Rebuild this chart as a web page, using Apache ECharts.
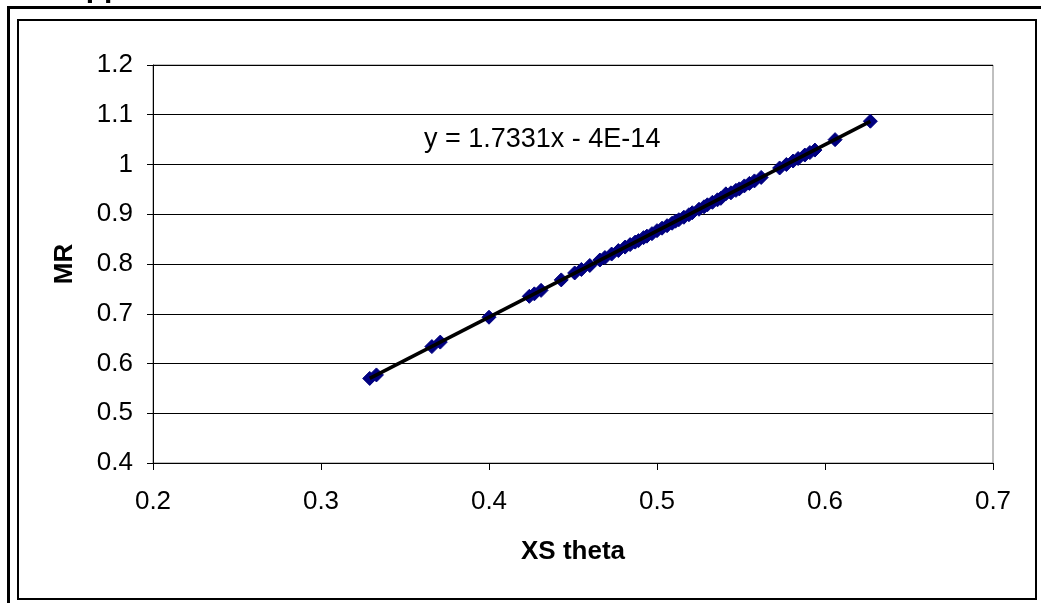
<!DOCTYPE html>
<html>
<head>
<meta charset="utf-8">
<script src="https://cdn.jsdelivr.net/npm/echarts@6/dist/echarts.min.js"></script>
<style>html,body{margin:0;padding:0;background:#fff}#c{width:1041px;height:603px}</style>
</head>
<body>
<div id="c"></div>
<script>
// XS theta values
const xsTheta = [0.329,0.333,0.366,0.371,0.400,0.424,0.427,0.431,0.443,0.451,0.455,0.460,0.466,0.469,0.473,0.477,0.481,0.484,0.487,0.489,0.492,0.494,0.497,0.500,0.503,0.506,0.509,0.511,0.513,0.516,0.519,0.521,0.525,0.528,0.530,0.533,0.536,0.538,0.541,0.544,0.547,0.549,0.552,0.555,0.558,0.562,0.573,0.577,0.581,0.584,0.588,0.591,0.594,0.606,0.627];
// MR values
const mr = [0.570,0.577,0.634,0.643,0.693,0.735,0.740,0.747,0.768,0.782,0.789,0.797,0.808,0.813,0.820,0.827,0.834,0.839,0.844,0.847,0.853,0.856,0.861,0.867,0.872,0.877,0.882,0.886,0.889,0.894,0.899,0.903,0.910,0.915,0.919,0.924,0.929,0.932,0.941,0.943,0.948,0.951,0.957,0.962,0.967,0.974,0.993,1.000,1.007,1.012,1.019,1.024,1.029,1.050,1.087];
const xTickLabels = ['0.2','0.3','0.4','0.5','0.6','0.7'];
const yTickLabels = ['0.4','0.5','0.6','0.7','0.8','0.9','1','1.1','1.2'];
// Trendline from the chart label: y = 1.7331x - 4E-14
const slope = 1.7331, intercept = -4e-14;
const equationText = 'y = 1.7331x - 4E-14';
const titleFragment = 'Upper';

const pts = xsTheta.map((x,i)=>[x, mr[i]]);
const xmin = Math.min(...xsTheta), xmax = Math.max(...xsTheta);
const trend = [[xmin, slope*xmin+intercept],[xmax, slope*xmax+intercept]];
const FONT = 'Liberation Sans, Arial, sans-serif';
const FS = 26;

const chart = echarts.init(document.getElementById('c'), null, {renderer:'canvas'});
chart.setOption({
  animation:false,
  backgroundColor:'#fff',
  grid:{left:153,right:48,top:65,bottom:140,show:true,borderColor:'#808080',borderWidth:1,backgroundColor:'transparent'},
  xAxis:{type:'value',min:0.2,max:0.7,interval:0.1,
    axisLine:{show:true,onZero:false,lineStyle:{color:'#000',width:1}},
    axisTick:{show:true,inside:false,length:7,lineStyle:{color:'#000'}},
    axisLabel:{margin:26,color:'#000',fontFamily:FONT,fontSize:FS,
      formatter:v=>xTickLabels[Math.round((v-0.2)*10)]},
    splitLine:{show:false}},
  yAxis:{type:'value',min:0.4,max:1.2,interval:0.1,
    axisLine:{show:true,onZero:false,lineStyle:{color:'#000',width:1}},
    axisTick:{show:true,inside:false,length:6,lineStyle:{color:'#000'}},
    axisLabel:{margin:20,color:'#000',fontFamily:FONT,fontSize:FS,
      formatter:v=>yTickLabels[Math.round((v-0.4)*10)]},
    splitLine:{show:true,lineStyle:{color:'#000',width:1}}},
  series:[
    {type:'scatter',data:pts,symbol:'diamond',symbolSize:14,
      itemStyle:{color:'#000080',borderColor:'#000080',borderWidth:1,opacity:1},z:2},
    {type:'line',data:trend,symbol:'none',lineStyle:{color:'#000',width:3.5},z:3,silent:true}
  ],
  graphic:[
    {type:'rect',shape:{x:8.5,y:7.5,width:1100,height:700},style:{fill:'none',stroke:'#000',lineWidth:3},silent:true},
    {type:'rect',shape:{x:18,y:20,width:1018,height:579},style:{fill:'none',stroke:'#000',lineWidth:2},silent:true},
    {type:'text',x:64,y:-11,style:{text:titleFragment,font:'bold 30px '+FONT,fill:'#000',align:'left',verticalAlign:'middle'},silent:true},
    {type:'text',x:424,y:140,style:{text:equationText,font:'27px '+FONT,fill:'#000',align:'left',verticalAlign:'middle'},silent:true},
    {type:'text',x:573,y:552,style:{text:'XS theta',font:'bold '+FS+'px '+FONT,fill:'#000',align:'center',verticalAlign:'middle'},silent:true},
    {type:'text',x:65,y:264,rotation:Math.PI/2,style:{text:'MR',font:'bold '+FS+'px '+FONT,fill:'#000',align:'center',verticalAlign:'middle'},silent:true}
  ]
});
</script>
</body>
</html>
